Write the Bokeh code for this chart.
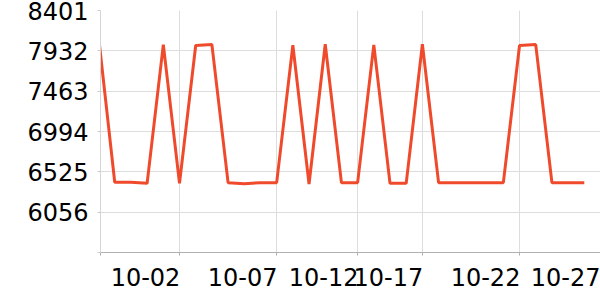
from bokeh.plotting import figure
from bokeh.models import Range1d, FixedTicker, ColumnDataSource
from bokeh.embed import file_html
from bokeh.resources import INLINE

# data (category index -> value)
values = [8100, 6403, 6403, 6391, 8005, 6391, 7994, 8005, 6399, 6387,
          6399, 6399, 7997, 6383, 8009, 6399, 6399, 8001, 6391, 6391,
          8009, 6399, 6399, 6399, 6399, 6399, 7994, 8005, 6399, 6399, 6399]
x_idx = list(range(len(values)))

tick_labels = ["10-02", "10-07", "10-12", "10-17", "10-22", "10-27"]
tick_idx = [5, 11, 16, 20, 26, 31]

y_ticks = [5587, 6056, 6525, 6994, 7463, 7932, 8401]

x_start, x_end = 0.12, 31.0
frame_w = 500
px_per_idx = frame_w / (x_end - x_start)
label_shift = 34 / px_per_idx  # right-align labels to their ticks

p = figure(width=600, height=300, output_backend="svg", toolbar_location=None,
           x_range=Range1d(x_start, x_end), y_range=Range1d(y_ticks[0], y_ticks[-1]),
           min_border_left=100, min_border_right=0, min_border_top=10, min_border_bottom=48)
p.outline_line_color = None

src = ColumnDataSource(dict(x=x_idx, y=values))
p.line("x", "y", source=src, line_color="#ef4a2b", line_width=3)

# x axis
shifted = [t - label_shift for t in tick_idx]
p.xaxis.ticker = FixedTicker(ticks=shifted, minor_ticks=[x_start] + tick_idx)
p.xaxis.major_label_overrides = {s: l for s, l in zip(shifted, tick_labels)}
p.xaxis.major_tick_line_color = None
p.xaxis.minor_tick_in = 0
p.xaxis.minor_tick_out = 3
p.xaxis.minor_tick_line_color = "#b0b0b0"
p.xaxis.axis_line_color = "#b0b0b0"
p.xaxis.major_label_standoff = 9
p.xaxis.major_label_text_font = "DejaVu Sans"
p.xaxis.major_label_text_font_size = "24px"
p.xaxis.major_label_text_color = "#000000"
p.xgrid.ticker = FixedTicker(ticks=tick_idx)
p.xgrid.grid_line_color = "#dddddd"

# y axis
p.yaxis.ticker = FixedTicker(ticks=y_ticks)
p.yaxis.major_label_overrides = {y_ticks[0]: ""}
p.yaxis.minor_tick_line_color = None
p.yaxis.major_tick_in = 0
p.yaxis.major_tick_out = 3
p.yaxis.major_tick_line_color = "#cccccc"
p.yaxis.axis_line_color = "#d5d5d5"
p.yaxis.major_label_standoff = 9
p.yaxis.major_label_text_font = "DejaVu Sans"
p.yaxis.major_label_text_font_size = "24px"
p.yaxis.major_label_text_color = "#000000"
p.ygrid.grid_line_color = "#dddddd"

open("out.html", "w").write(file_html(p, INLINE))
